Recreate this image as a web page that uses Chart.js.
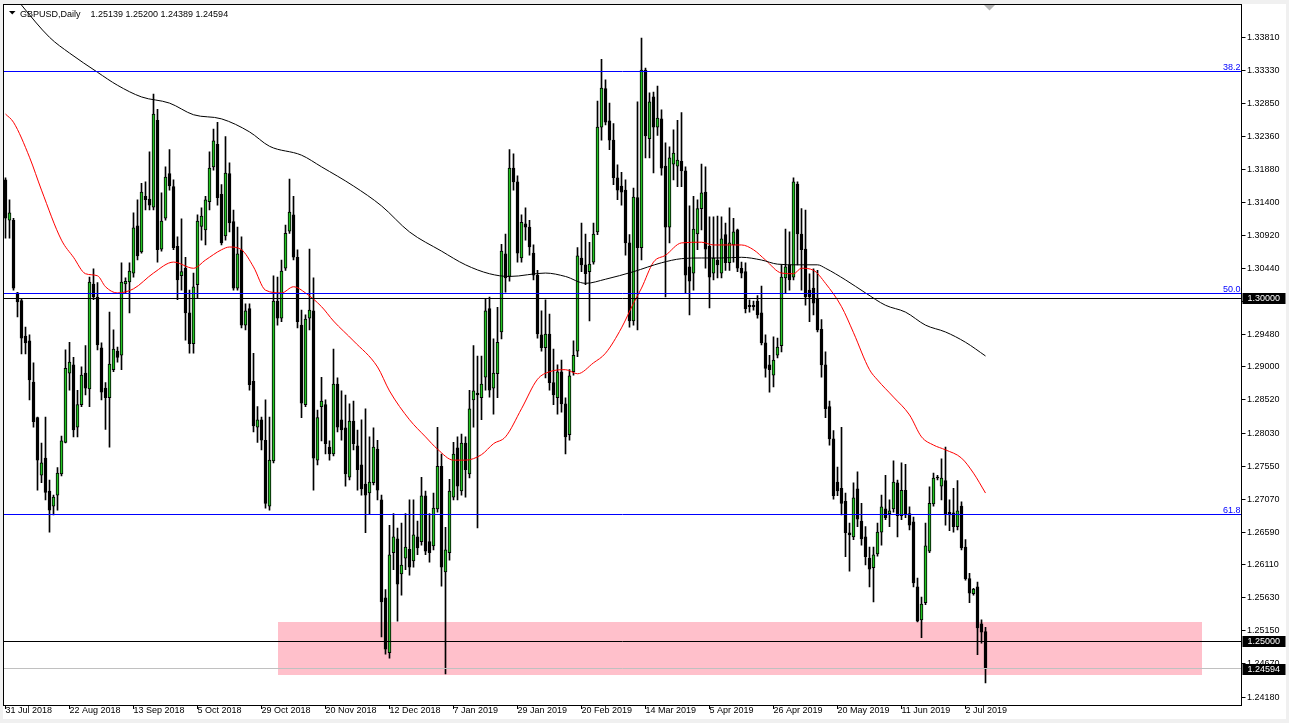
<!DOCTYPE html>
<html>
<head>
<meta charset="utf-8">
<title>GBPUSD,Daily</title>
<script src="https://cdn.jsdelivr.net/npm/chart.js@4.4.1/dist/chart.umd.min.js"></script>
<style>
  html, body { margin: 0; padding: 0; background: #f0f0f0; }
  canvas { display: block; }
</style>
</head>
<body>
<canvas id="chart" width="1289" height="723"></canvas>
<script>
// GBPUSD daily candles, 31 Jul 2018 -> 9 Jul 2019 (one entry per bar)
const opens = [
  1.3173, 1.3114, 1.3114, 1.3008, 1.2997, 1.2945, 1.2938, 1.2878, 1.2826, 1.2742,
  1.2767, 1.2719, 1.2697, 1.2713, 1.2744, 1.2790, 1.2891, 1.2903, 1.2812, 1.2845,
  1.2891, 1.2868, 1.3021, 1.3002, 1.2928, 1.2869, 1.2855, 1.2896, 1.2923, 1.2917,
  1.3021, 1.3024, 1.3037, 1.3106, 1.3068, 1.3149, 1.3145, 1.3133, 1.3260, 1.3072,
  1.3117, 1.3182, 1.3163, 1.3076, 1.3033, 1.3044, 1.2979, 1.2934, 1.3020, 1.3105,
  1.3100, 1.3141, 1.3192, 1.3225, 1.3152, 1.3091, 1.3182, 1.3112, 1.3015, 1.3071,
  1.2961, 1.2985, 1.2879, 1.2812, 1.2823, 1.2793, 1.2697, 1.2763, 1.2996, 1.2971,
  1.3044, 1.3098, 1.3122, 1.3060, 1.2961, 1.2845, 1.2971, 1.2982, 1.2764, 1.2842,
  1.2845, 1.2783, 1.2773, 1.2875, 1.2823, 1.2811, 1.2739, 1.2821, 1.2785, 1.2757,
  1.2729, 1.2716, 1.2731, 1.2780, 1.2706, 1.2563, 1.2483, 1.2629, 1.2649, 1.2598,
  1.2621, 1.2634, 1.2617, 1.2652, 1.2645, 1.2712, 1.2645, 1.2639, 1.2693, 1.2755,
  1.2601, 1.2629, 1.2710, 1.2782, 1.2719, 1.2789, 1.2744, 1.2852, 1.2862, 1.2855,
  1.2885, 1.2985, 1.2869, 1.2890, 1.2951, 1.3065, 1.3032, 1.3190, 1.3170, 1.3059,
  1.3109, 1.3104, 1.3066, 1.3034, 1.2947, 1.2928, 1.2948, 1.2877, 1.2855, 1.2893,
  1.2846, 1.2801, 1.2893, 1.2923, 1.3059, 1.3049, 1.3039, 1.3053, 1.3097, 1.3250,
  1.3306, 1.3259, 1.3231, 1.3176, 1.3164, 1.3158, 1.3081, 1.2967, 1.3147, 1.3074,
  1.3333, 1.3233, 1.3294, 1.3250, 1.3262, 1.3193, 1.3104, 1.3196, 1.3193, 1.3200,
  1.3186, 1.3046, 1.3037, 1.3094, 1.3131, 1.3155, 1.3076, 1.3037, 1.3056, 1.3037,
  1.3093, 1.3052, 1.3078, 1.3100, 1.3044, 1.3039, 1.2990, 1.2990, 1.2996, 1.2979,
  1.2935, 1.2903, 1.2888, 1.2917, 1.2931, 1.3030, 1.3049, 1.3031, 1.3167, 1.3094,
  1.3072, 1.3012, 1.3015, 1.2999, 1.2955, 1.2903, 1.2842, 1.2795, 1.2732, 1.2723,
  1.2704, 1.2658, 1.2652, 1.2722, 1.2675, 1.2652, 1.2621, 1.2607, 1.2627, 1.2659,
  1.2693, 1.2686, 1.2693, 1.2731, 1.2683, 1.2720, 1.2686, 1.2674, 1.2579, 1.2531,
  1.2556, 1.2631, 1.2700, 1.2739, 1.2726, 1.2734, 1.2688, 1.2687, 1.2667, 1.2697,
  1.2637, 1.2591, 1.2569, 1.2579, 1.2525, 1.25139
];
const highs = [
  1.3176, 1.3144, 1.3117, 1.3009, 1.3000, 1.2958, 1.2947, 1.2906, 1.2827, 1.2789,
  1.2827, 1.2735, 1.2713, 1.2753, 1.2799, 1.2925, 1.2936, 1.2914, 1.2866, 1.2900,
  1.2931, 1.3031, 1.3043, 1.3023, 1.2935, 1.2877, 1.2980, 1.2954, 1.2929, 1.3052,
  1.3030, 1.3052, 1.3125, 1.3144, 1.3168, 1.3170, 1.3214, 1.3298, 1.3276, 1.3154,
  1.3192, 1.3217, 1.3173, 1.3090, 1.3116, 1.3060, 1.3012, 1.3037, 1.3122, 1.3132,
  1.3149, 1.3214, 1.3247, 1.3257, 1.3166, 1.3236, 1.3198, 1.3129, 1.3104, 1.3090,
  1.2992, 1.2992, 1.2920, 1.2842, 1.2827, 1.2852, 1.2827, 1.3033, 1.3031, 1.3056,
  1.3107, 1.3174, 1.3149, 1.3071, 1.2983, 1.2976, 1.3072, 1.3030, 1.2837, 1.2885,
  1.2852, 1.2792, 1.2926, 1.2884, 1.2865, 1.2859, 1.2846, 1.2850, 1.2808, 1.2823,
  1.2839, 1.2798, 1.2811, 1.2793, 1.2713, 1.2575, 1.2669, 1.2686, 1.2665, 1.2672,
  1.2686, 1.2706, 1.2706, 1.2675, 1.2739, 1.2719, 1.2686, 1.2716, 1.2812, 1.2773,
  1.2666, 1.2736, 1.2790, 1.2798, 1.2802, 1.2798, 1.2866, 1.2931, 1.2916, 1.2916,
  1.2999, 1.3002, 1.2941, 1.2987, 1.3079, 1.3094, 1.3217, 1.3211, 1.3179, 1.3122,
  1.3132, 1.3114, 1.3078, 1.3041, 1.2982, 1.2998, 1.2977, 1.2926, 1.2903, 1.2910,
  1.2855, 1.2896, 1.2938, 1.3074, 1.3110, 1.3094, 1.3082, 1.3110, 1.3288, 1.3349,
  1.3319, 1.3285, 1.3255, 1.3195, 1.3184, 1.3173, 1.3093, 1.3161, 1.3287, 1.3380,
  1.3336, 1.3300, 1.3301, 1.3310, 1.3275, 1.3227, 1.3221, 1.3246, 1.3260, 1.3271,
  1.3192, 1.3135, 1.3149, 1.3144, 1.3196, 1.3192, 1.3119, 1.3119, 1.3120, 1.3119,
  1.3110, 1.3132, 1.3117, 1.3101, 1.3053, 1.3052, 1.2998, 1.2996, 1.3004, 1.3018,
  1.2947, 1.2917, 1.2944, 1.2942, 1.3049, 1.3101, 1.3097, 1.3176, 1.3170, 1.3131,
  1.3129, 1.3036, 1.3043, 1.3041, 1.2969, 1.2922, 1.2850, 1.2807, 1.2754, 1.2812,
  1.2716, 1.2672, 1.2731, 1.2747, 1.2701, 1.2667, 1.2637, 1.2637, 1.2672, 1.2713,
  1.2742, 1.2706, 1.2763, 1.2735, 1.2760, 1.2758, 1.2696, 1.2681, 1.2592, 1.2564,
  1.2672, 1.2725, 1.2745, 1.2742, 1.2766, 1.2783, 1.2706, 1.2723, 1.2734, 1.2703,
  1.2648, 1.2599, 1.2577, 1.2586, 1.2531, 1.25200
];
const lows = [
  1.3088, 1.3088, 1.3012, 1.2973, 1.2919, 1.2919, 1.2852, 1.2812, 1.2720, 1.2731,
  1.2706, 1.2659, 1.2684, 1.2691, 1.2741, 1.2789, 1.2866, 1.2798, 1.2798, 1.2842,
  1.2859, 1.2842, 1.2998, 1.2925, 1.2852, 1.2809, 1.2783, 1.2893, 1.2907, 1.2896,
  1.3008, 1.2979, 1.3031, 1.3056, 1.3066, 1.3129, 1.3129, 1.3129, 1.3053, 1.3069,
  1.3114, 1.3158, 1.3071, 1.2998, 1.3012, 1.2939, 1.2920, 1.2920, 1.3001, 1.3085,
  1.3078, 1.3129, 1.3187, 1.3136, 1.3078, 1.3085, 1.3097, 1.3012, 1.3012, 1.2957,
  1.2954, 1.2866, 1.2805, 1.2790, 1.2779, 1.2694, 1.2691, 1.2760, 1.2961, 1.2966,
  1.3041, 1.3095, 1.3056, 1.2957, 1.2826, 1.2842, 1.2954, 1.2720, 1.2757, 1.2792,
  1.2773, 1.2764, 1.2770, 1.2805, 1.2793, 1.2726, 1.2735, 1.2779, 1.2720, 1.2713,
  1.2658, 1.2686, 1.2728, 1.2706, 1.2506, 1.2481, 1.2475, 1.2604, 1.2529, 1.2567,
  1.2604, 1.2596, 1.2608, 1.2626, 1.2640, 1.2626, 1.2615, 1.2633, 1.2688, 1.2580,
  1.2452, 1.2618, 1.2706, 1.2706, 1.2713, 1.2710, 1.2738, 1.2812, 1.2665, 1.2823,
  1.2866, 1.2856, 1.2831, 1.2855, 1.2941, 1.3009, 1.3025, 1.3158, 1.3053, 1.3053,
  1.3085, 1.3063, 1.3027, 1.2942, 1.2923, 1.2884, 1.2866, 1.2845, 1.2831, 1.2834,
  1.2773, 1.2793, 1.2888, 1.2915, 1.3039, 1.3020, 1.2967, 1.3050, 1.3093, 1.3231,
  1.3253, 1.3217, 1.3166, 1.3144, 1.3136, 1.3063, 1.2958, 1.2961, 1.2954, 1.3056,
  1.3205, 1.3205, 1.3183, 1.3238, 1.3180, 1.3002, 1.3081, 1.3173, 1.3163, 1.3163,
  1.3008, 1.2976, 1.3012, 1.3071, 1.3100, 1.3044, 1.2986, 1.3027, 1.3030, 1.3030,
  1.3041, 1.3041, 1.3053, 1.3039, 1.3030, 1.2979, 1.2980, 1.2983, 1.2971, 1.2932,
  1.2885, 1.2863, 1.2871, 1.2913, 1.2922, 1.3008, 1.3012, 1.3027, 1.3049, 1.3012,
  1.2990, 1.2966, 1.2976, 1.2951, 1.2885, 1.2826, 1.2786, 1.2707, 1.2712, 1.2684,
  1.2623, 1.2602, 1.2648, 1.2667, 1.2640, 1.2611, 1.2579, 1.2557, 1.2624, 1.2640,
  1.2677, 1.2667, 1.2688, 1.2652, 1.2677, 1.2680, 1.2662, 1.2579, 1.2528, 1.2505,
  1.2553, 1.2629, 1.2697, 1.2735, 1.2706, 1.2669, 1.2661, 1.2659, 1.2662, 1.2633,
  1.2589, 1.2556, 1.2567, 1.2480, 1.2497, 1.24389
];
const closes = [
  1.3117, 1.3125, 1.3015, 1.2995, 1.2942, 1.2935, 1.2881, 1.2820, 1.2764, 1.2760,
  1.2717, 1.2691, 1.2710, 1.2745, 1.2792, 1.2898, 1.2907, 1.2808, 1.2845, 1.2888,
  1.2869, 1.3024, 1.3002, 1.2932, 1.2863, 1.2855, 1.2904, 1.2926, 1.2914, 1.3024,
  1.3025, 1.3040, 1.3103, 1.3062, 1.3155, 1.3144, 1.3136, 1.3269, 1.3071, 1.3113,
  1.3177, 1.3164, 1.3074, 1.3027, 1.3039, 1.2979, 1.2934, 1.3017, 1.3113, 1.3120,
  1.3144, 1.3190, 1.3230, 1.3147, 1.3081, 1.3183, 1.3110, 1.3015, 1.3065, 1.2961,
  1.2982, 1.2874, 1.2814, 1.2823, 1.2793, 1.2701, 1.2764, 1.2996, 1.2971, 1.3040,
  1.3095, 1.3126, 1.3060, 1.2966, 1.2847, 1.2970, 1.2983, 1.2767, 1.2826, 1.2850,
  1.2788, 1.2773, 1.2875, 1.2812, 1.2808, 1.2744, 1.2821, 1.2788, 1.2750, 1.2722,
  1.2713, 1.2732, 1.2783, 1.2720, 1.2557, 1.2488, 1.2626, 1.2652, 1.2583, 1.2611,
  1.2637, 1.2608, 1.2655, 1.2636, 1.2712, 1.2631, 1.2629, 1.2694, 1.2755, 1.2608,
  1.2633, 1.2719, 1.2773, 1.2726, 1.2789, 1.2750, 1.2839, 1.2865, 1.2859, 1.2875,
  1.2982, 1.2866, 1.2891, 1.2936, 1.3069, 1.3030, 1.3190, 1.3170, 1.3066, 1.3111,
  1.3104, 1.3075, 1.3034, 1.2948, 1.2928, 1.2948, 1.2877, 1.2859, 1.2893, 1.2846,
  1.2798, 1.2887, 1.2917, 1.3062, 1.3049, 1.3036, 1.3050, 1.3094, 1.3250, 1.3307,
  1.3257, 1.3231, 1.3176, 1.3158, 1.3155, 1.3081, 1.2967, 1.3148, 1.3074, 1.3333,
  1.3237, 1.3287, 1.3250, 1.3263, 1.3190, 1.3104, 1.3205, 1.3212, 1.3202, 1.3186,
  1.3034, 1.3025, 1.3101, 1.3131, 1.3154, 1.3072, 1.3031, 1.3059, 1.3049, 1.3087,
  1.3052, 1.3081, 1.3097, 1.3044, 1.3037, 1.2985, 1.2988, 1.2988, 1.2976, 1.2935,
  1.2898, 1.2896, 1.2910, 1.2929, 1.3031, 1.3046, 1.3027, 1.3170, 1.3094, 1.3071,
  1.3002, 1.3002, 1.2993, 1.2954, 1.2903, 1.2839, 1.2795, 1.2712, 1.2719, 1.2701,
  1.2658, 1.2655, 1.2709, 1.2678, 1.2649, 1.2623, 1.2605, 1.2626, 1.2659, 1.2696,
  1.2680, 1.2690, 1.2732, 1.2683, 1.2720, 1.2684, 1.2669, 1.2585, 1.2529, 1.2554,
  1.2639, 1.2701, 1.2738, 1.2738, 1.2738, 1.2686, 1.2684, 1.2667, 1.2690, 1.2636,
  1.2591, 1.2570, 1.2576, 1.2519, 1.2513, 1.24594
];

// moving averages: bar index -> value
const maSlowIdx = [0, 4, 11, 16, 23, 28, 34, 41, 47, 54, 61, 66, 74, 79, 87, 94, 101, 109, 115, 121,
  126, 135, 140, 145, 150, 157, 164, 169, 174, 179, 184, 189, 193, 198, 203, 205, 210, 215, 220, 225,
  230, 235, 240, 245];
const maSlow = [1.3457, 1.3428, 1.3381, 1.3358, 1.3330, 1.3311, 1.3294, 1.3285, 1.3268, 1.3262,
  1.3243, 1.3222, 1.3209, 1.3192, 1.3164, 1.3135, 1.3097, 1.3069, 1.3049, 1.3036,
  1.3032, 1.3037, 1.3032, 1.3022, 1.3028, 1.3039, 1.3052, 1.3058, 1.3059, 1.3059,
  1.3060, 1.3056, 1.3050, 1.3049, 1.3049, 1.3044, 1.3027, 1.3008, 1.2990, 1.2980,
  1.2961, 1.2951, 1.2936, 1.2916];
const maFastIdx = [0, 2, 6, 9, 14, 17, 20, 23, 25, 28, 32, 37, 42, 47, 50, 54, 56, 59, 62, 65,
  69, 72, 75, 79, 82, 87, 93, 96, 101, 105, 108, 112, 115, 119, 122, 125, 129, 133, 136, 140,
  143, 147, 150, 154, 157, 159, 162, 165, 169, 174, 177, 184, 187, 190, 194, 197, 199, 202, 205, 209,
  212, 216, 218, 222, 226, 229, 232, 235, 239, 242, 245];
const maFast = [1.3269, 1.3257, 1.3206, 1.3158, 1.3085, 1.3060, 1.3036, 1.3033, 1.3017, 1.3008,
  1.3014, 1.3037, 1.3053, 1.3044, 1.3056, 1.3071, 1.3075, 1.3071, 1.3046, 1.3012,
  1.3008, 1.3017, 1.3008, 1.2988, 1.2967, 1.2938, 1.2900, 1.2865, 1.2823, 1.2798,
  1.2780, 1.2764, 1.2764, 1.2772, 1.2788, 1.2798, 1.2839, 1.2882, 1.2893, 1.2896,
  1.2890, 1.2906, 1.2920, 1.2957, 1.2993, 1.3015, 1.3053, 1.3063, 1.3081, 1.3082,
  1.3078, 1.3078, 1.3071, 1.3056, 1.3037, 1.3036, 1.3044, 1.3041, 1.3022, 1.2988,
  1.2950, 1.2896, 1.2881, 1.2856, 1.2830, 1.2798, 1.2786, 1.2779, 1.2767, 1.2745,
  1.2716];

// axis text
const dateTicks = ['31 Jul 2018', '22 Aug 2018', '13 Sep 2018', '5 Oct 2018', '29 Oct 2018',
  '20 Nov 2018', '12 Dec 2018', '7 Jan 2019', '29 Jan 2019', '20 Feb 2019', '14 Mar 2019',
  '5 Apr 2019', '26 Apr 2019', '20 May 2019', '11 Jun 2019', '2 Jul 2019'];
const dateTickStep = 16;
const yTickValues = [1.33810, 1.33330, 1.32850, 1.32360, 1.31880, 1.31400, 1.30920, 1.30440,
  1.29960, 1.29480, 1.29000, 1.28520, 1.28030, 1.27550, 1.27070, 1.26590, 1.26110, 1.25630,
  1.25150, 1.24670, 1.24180];

// chart objects
const fibLevels = [1.33315, 1.30075, 1.26845];
const fibNames = ['38.2', '50.0', '61.8'];
const roundLevels = [1.30000, 1.25000];
const zone = { fromIdx: 68, toIdx: 299, top: 1.2528, bottom: 1.2450 };

const slotCount = 309;
const yMin = 1.24067, yMax = 1.34296;
const BULL = '#22c322';
const FONT = '9px "Liberation Sans", Arial, sans-serif';

const slots = Array.from({ length: slotCount }, (_, i) => i);
const isDateTick = i => i % dateTickStep === 0 && i / dateTickStep < dateTicks.length;

Chart.defaults.font.family = '"Liberation Sans", Arial, sans-serif';
Chart.defaults.font.size = 9;
Chart.defaults.color = '#000';

const crisp = v => Math.floor(v) + 0.5;

const mt4Decor = {
    id: 'mt4Decor',
    beforeDraw(chart) {
        const c = chart.ctx;
        c.save();
        c.fillStyle = '#f0f0f0';
        c.fillRect(0, 0, chart.width, chart.height);
        c.fillStyle = '#ffffff';
        c.fillRect(3, 4, 1283, 715);
        c.restore();
    },
    beforeDatasetsDraw(chart) {
        const { ctx: c, chartArea: a, scales: { x, y } } = chart;
        c.save();
        c.beginPath();
        c.rect(a.left, a.top, a.right - a.left, a.bottom - a.top);
        c.clip();
        const x0 = x.getPixelForValue(zone.fromIdx);
        const x1 = x.getPixelForValue(zone.toIdx);
        const y0 = y.getPixelForValue(zone.top);
        const y1 = y.getPixelForValue(zone.bottom);
        c.fillStyle = '#ffc0cb';
        c.fillRect(Math.round(x0), Math.round(y0), Math.round(x1 - x0), Math.round(y1 - y0));
        c.restore();
    },
    afterDatasetsDraw(chart) {
        const { ctx: c, chartArea: a, scales: { x, y } } = chart;
        const right = a.right + 2;
        c.save();
        c.lineWidth = 1;

        // bid line
        const bid = closes[closes.length - 1];
        c.strokeStyle = '#c0c0c0';
        c.beginPath();
        c.moveTo(a.left, crisp(y.getPixelForValue(bid)));
        c.lineTo(right, crisp(y.getPixelForValue(bid)));
        c.stroke();

        // round number lines
        c.strokeStyle = '#000';
        roundLevels.forEach(v => {
            const py = crisp(y.getPixelForValue(v));
            c.beginPath(); c.moveTo(a.left, py); c.lineTo(right, py); c.stroke();
        });

        // fibonacci levels
        c.strokeStyle = '#0000ff';
        c.fillStyle = '#0000ff';
        c.font = FONT;
        c.textAlign = 'right';
        c.textBaseline = 'alphabetic';
        fibLevels.forEach((v, k) => {
            const py = crisp(y.getPixelForValue(v));
            c.beginPath(); c.moveTo(a.left, py); c.lineTo(right, py); c.stroke();
            c.fillText(fibNames[k], right - 1, py - 2);
        });

        // frame
        c.strokeStyle = '#000';
        c.strokeRect(a.left, a.top + 0.5, right - a.left, a.bottom - a.top);

        // chart shift marker
        const sx = x.getPixelForValue(246);
        c.fillStyle = '#b4b4b4';
        c.beginPath();
        c.moveTo(sx - 5.5, a.top + 1);
        c.lineTo(sx + 5.5, a.top + 1);
        c.lineTo(sx, a.top + 6.5);
        c.closePath();
        c.fill();

        // title
        const last = closes.length - 1;
        c.fillStyle = '#000';
        c.beginPath();
        c.moveTo(9, 11); c.lineTo(15.5, 11); c.lineTo(12.25, 14.5); c.closePath();
        c.fill();
        c.textAlign = 'left';
        c.fillText('GBPUSD,Daily', 20, 16.5);
        const ohlc = [opens[last], highs[last], lows[last], closes[last]].map(v => v.toFixed(5));
        c.fillText(ohlc.join(' '), 90.5, 16.5);
        c.restore();
    },
    afterDraw(chart) {
        const { ctx: c, chartArea: a, scales: { y } } = chart;
        const ax = a.right + 2;
        c.save();
        c.strokeStyle = '#000';
        c.lineWidth = 1;
        yTickValues.forEach(v => {
            const py = crisp(y.getPixelForValue(v));
            c.beginPath(); c.moveTo(ax, py); c.lineTo(ax + 4, py); c.stroke();
        });
        // price labels on the axis
        c.font = FONT;
        c.textAlign = 'left';
        c.textBaseline = 'middle';
        const labels = roundLevels.concat([closes[closes.length - 1]]);
        labels.forEach(v => {
            const py = Math.round(y.getPixelForValue(v));
            c.fillStyle = '#000';
            c.fillRect(ax + 1, py - 5, 43, 11);
            c.fillStyle = '#fff';
            c.fillText(v.toFixed(5), ax + 6, py + 0.5);
        });
        c.restore();
    }
};

new Chart(document.getElementById('chart'), {
    type: 'bar',
    data: {
        labels: slots,
        datasets: [
            {
                type: 'line',
                label: 'MA slow',
                data: maSlowIdx.map((i, k) => ({ x: i, y: maSlow[k] })),
                borderColor: '#000000',
                borderWidth: 1,
                pointRadius: 0,
                cubicInterpolationMode: 'monotone',
                order: 0
            },
            {
                type: 'line',
                label: 'MA fast',
                data: maFastIdx.map((i, k) => ({ x: i, y: maFast[k] })),
                borderColor: '#ff0000',
                borderWidth: 1,
                pointRadius: 0,
                cubicInterpolationMode: 'monotone',
                order: 0
            },
            {
                label: 'body',
                data: opens.map((o, i) => [o, closes[i]]),
                backgroundColor: opens.map((o, i) => closes[i] >= o ? BULL : '#000000'),
                borderColor: '#000000',
                borderWidth: 1,
                borderSkipped: false,
                barThickness: 3,
                minBarLength: 1,
                grouped: false,
                order: 1
            },
            {
                label: 'wick',
                data: lows.map((l, i) => [l, highs[i]]),
                backgroundColor: '#000000',
                borderWidth: 0,
                barThickness: 1,
                grouped: false,
                order: 2
            }
        ]
    },
    options: {
        responsive: false,
        devicePixelRatio: 1,
        animation: false,
        events: [],
        layout: { padding: { left: 3.5, top: 4, right: 1.5, bottom: 0 } },
        plugins: { legend: { display: false }, tooltip: { enabled: false } },
        scales: {
            x: {
                type: 'category',
                offset: true,
                border: { display: false },
                grid: {
                    display: true,
                    drawOnChartArea: false,
                    drawTicks: true,
                    tickLength: 4,
                    offset: false,
                    color: ctx => isDateTick(ctx.index) ? '#000' : 'rgba(0,0,0,0)',
                    tickColor: ctx => isDateTick(ctx.index) ? '#000' : 'rgba(0,0,0,0)'
                },
                afterFit: s => { s.height = 18; s.paddingLeft = 0; s.paddingRight = 0; },
                ticks: {
                    autoSkip: false,
                    maxRotation: 0,
                    minRotation: 0,
                    align: 'start',
                    padding: -4,
                    color: '#000',
                    callback: (v, i) => isDateTick(i) ? dateTicks[i / dateTickStep] : ''
                }
            },
            y: {
                position: 'right',
                min: yMin,
                max: yMax,
                border: { display: false },
                grid: { display: false, drawTicks: false },
                afterBuildTicks: s => { s.ticks = yTickValues.map(v => ({ value: v })); },
                afterFit: s => { s.width = 48; s.paddingTop = 0; s.paddingBottom = 0; },
                ticks: {
                    autoSkip: false,
                    padding: 7.5,
                    color: '#000',
                    callback: v => v.toFixed(5)
                }
            }
        }
    },
    plugins: [mt4Decor]
});
</script>
</body>
</html>
